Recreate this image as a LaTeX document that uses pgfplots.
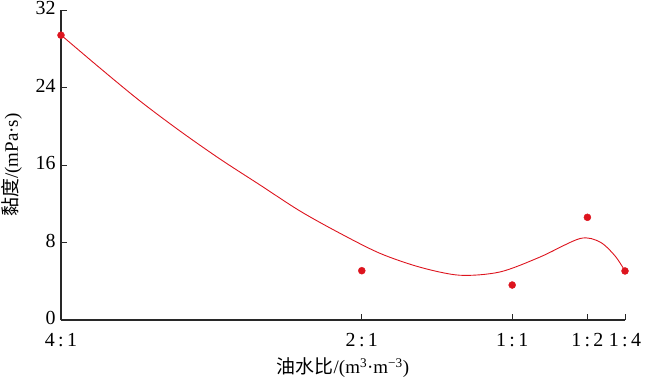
\documentclass[border=0pt]{standalone}
\usepackage{fontspec}
\setmainfont{Liberation Serif}
\newfontfamily\cjk{Noto Sans CJK SC}
\usepackage{pgfplots}
\pgfplotsset{compat=1.18}
\definecolor{myred}{RGB}{221,20,30}
\definecolor{axisgray}{RGB}{40,40,40}
\begin{document}
\begin{tikzpicture}
\path[use as bounding box] (0,0) rectangle (650bp,380bp);
\begin{axis}[
  at={(61bp,60bp)}, anchor=south west,
  scale only axis, width=564bp, height=310bp,
  xmin=0.25, xmax=4, x dir=reverse,
  ymin=0, ymax=32,
  axis x line*=bottom, axis y line*=left,
  axis line style={axisgray, line width=1.1pt},
  xtick={4,2,1,0.5,0.25},
  xticklabels={4\,:\,1, 2\,:\,1, 1\,:\,1, 1\,:\,2, 1\,:\,4},
  ytick={0,8,16,24,32},
  tick align=inside, major tick length=6bp,
  tick style={axisgray, line width=0.8pt},
  tick label style={font=\fontsize{20}{23}\selectfont},
  /pgf/number format/assume math mode=true,
  xticklabel style={inner ysep=0pt, yshift=-13bp},
  yticklabel style={inner ysep=0pt, xshift=-2bp, yshift=2bp},
  xlabel={{\cjk 油水比}/(m\textsuperscript{3}·m\textsuperscript{−3})},
  ylabel={{\cjk 黏度}/(mPa·s)},
  label style={font=\fontsize{19}{22}\selectfont},
  xlabel style={at={(axis description cs:0.5,-0.1548)}, anchor=center},
  ylabel style={at={(axis description cs:-0.0869,0.5)}, anchor=center},
  clip=false,
]
\addplot[myred, line width=0.9pt, smooth, tension=0.5] coordinates {
  (4.000,29.42) (3.741,26.01) (3.475,22.61) (3.209,19.51) (2.943,16.62)
  (2.677,13.94) (2.411,11.25) (2.145,8.95) (1.879,6.88) (1.613,5.45)
  (1.348,4.62) (1.081,4.96) (0.815,6.50) (0.549,8.41) (0.416,8.05)
  (0.316,6.61) (0.250,5.06)
};
\addplot[only marks, mark=*, mark size=3.5bp, myred, mark options={draw=myred, fill=myred}] coordinates {
  (4,29.4) (2,5.09) (1,3.61) (0.5,10.6) (0.25,5.06)
};
\end{axis}
\end{tikzpicture}
\end{document}
